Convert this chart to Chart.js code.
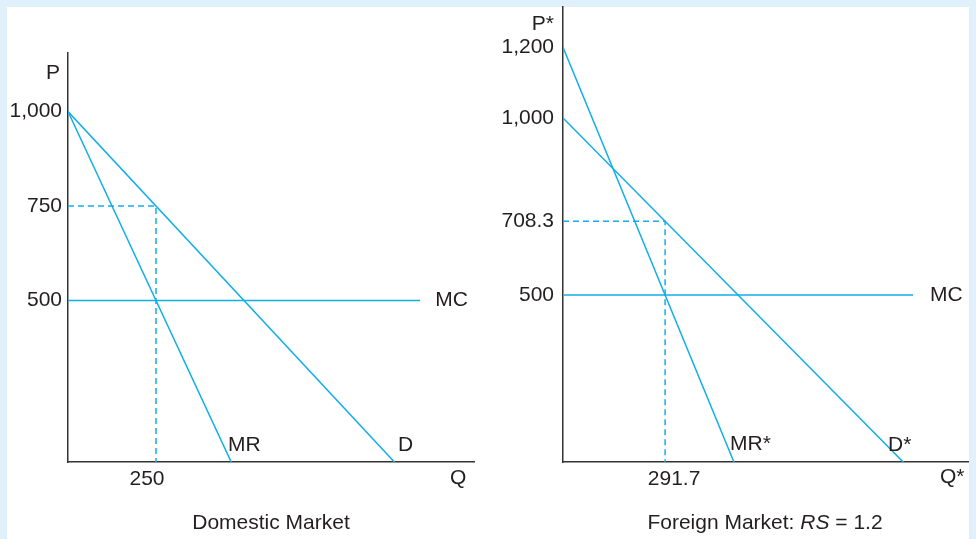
<!DOCTYPE html>
<html>
<head>
<meta charset="utf-8">
<script src="https://cdn.jsdelivr.net/npm/chart.js@4"></script>
<style>
  html, body { margin:0; padding:0; }
  body { width:976px; height:539px; background:#e0f1fb; position:relative; overflow:hidden;
         font-family:'Liberation Sans', Arial, Helvetica, sans-serif; color:#231f20; }
  #panel { position:absolute; left:7px; top:7px; width:962px; height:532px; background:#ffffff; }
  canvas { position:absolute; top:0; }
  .cap { position:absolute; font-size:21px; line-height:24px; white-space:nowrap; transform:translate(-50%,-50%); }
</style>
</head>
<body>
<div id="panel"></div>
<canvas id="dom" width="488" height="539" style="left:0px"></canvas>
<canvas id="for" width="488" height="539" style="left:488px"></canvas>
<div class="cap" style="left:271px; top:522px;">Domestic Market</div>
<div class="cap" style="left:765px; top:522px;">Foreign Market: <i>RS</i> = 1.2</div>
<script>
// ---- Domestic market data (P vs Q) ----
const domDemand   = [{x:0, y:1000}, {x:1000, y:0}];
const domMR       = [{x:0, y:1000}, {x:500, y:0}];
const domMC       = [{x:0, y:500}, {x:1000, y:500}];
const domOptimum  = [{x:0, y:750}, {x:250, y:750}, {x:250, y:0}];
const domPriceTicks = [500, 750, 1000];
const domQtyTicks   = [250];

// ---- Foreign market data (P* vs Q*) ----
const forDemand   = [{x:0, y:1000}, {x:1000, y:0}];
const forMR       = [{x:0, y:1200}, {x:500, y:0}];
const forMC       = [{x:0, y:500}, {x:1000, y:500}];
const forOptimum  = [{x:0, y:708.3}, {x:291.7, y:708.3}, {x:291.7, y:0}];
const forPriceTicks = [500, 708.3, 1000, 1200];
const forQtyTicks   = [291.7];

const CYAN = '#12aee8';
const INK = '#231f20';
const AXIS = '#333333';
const FONT = "'Liberation Sans', Arial, Helvetica, sans-serif";

Chart.defaults.font.family = FONT;
Chart.defaults.font.size = 21;
Chart.defaults.color = INK;

const fmt = v => Number(v).toLocaleString('en-US');

const textLabels = {
  id: 'textLabels',
  afterDraw(chart, args, opts) {
    const ctx = chart.ctx;
    const xs = chart.scales.x, ys = chart.scales.y;
    ctx.save();
    ctx.fillStyle = INK;
    ctx.font = '21px ' + FONT;
    ctx.textBaseline = 'middle';
    (opts.items || []).forEach(it => {
      ctx.textAlign = it.align || 'left';
      ctx.fillText(it.text, xs.getPixelForValue(it.x), ys.getPixelForValue(it.y));
    });
    ctx.restore();
  }
};

function lineSet(data, dashed) {
  return {
    data, borderColor: CYAN, borderWidth: 1.5, pointRadius: 0, tension: 0,
    borderDash: dashed ? [6, 4] : [], fill: false
  };
}

function noPad(s) { s.paddingTop = 0; s.paddingBottom = 0; s.paddingLeft = 0; s.paddingRight = 0; }

function makeChart(id, cfg) {
  return new Chart(document.getElementById(id), {
    type: 'line',
    data: { datasets: cfg.datasets },
    options: {
      responsive: false, animation: false, devicePixelRatio: 1,
      layout: { padding: cfg.padding },
      plugins: { legend: {display:false}, tooltip: {enabled:false}, textLabels: { items: cfg.labels } },
      scales: {
        x: {
          type: 'linear', min: 0, max: cfg.xMax,
          grid: { display:false, drawTicks:false },
          border: { display:true, color: AXIS, width: 1.5 },
          afterBuildTicks: s => { s.ticks = cfg.xTicks.map(v => ({value:v})); },
          afterFit: s => { s.height = 77; noPad(s); },
          ticks: { autoSkip:false, maxRotation:0, padding:5, labelOffset: cfg.xLabelOffset, callback: v => fmt(v), color: INK }
        },
        y: {
          type: 'linear', min: cfg.yMin, max: cfg.yMax,
          grid: { display:false, drawTicks:false },
          border: { display:true, color: AXIS, width: 1.5 },
          afterBuildTicks: s => { s.ticks = cfg.yTicks.map(v => ({value:v})); },
          afterFit: s => { s.width = cfg.yWidth; noPad(s); },
          ticks: { autoSkip:false, padding: cfg.yPad, callback: v => fmt(v), color: INK }
        }
      }
    },
    plugins: [textLabels]
  });
}

makeChart('dom', {
  datasets: [lineSet(domDemand), lineSet(domMR), lineSet(domMC), lineSet(domOptimum, true)],
  padding: { top:53, right:14, left:0, bottom:0 },
  xMax: 1153.4, yMin: 72.75, yMax: 1155,
  xTicks: domQtyTicks, yTicks: domPriceTicks,
  xLabelOffset: -9, yWidth: 68, yPad: 6,
  labels: [
    {text:'P', x:-23, y:1102, align:'right'},
    {text:'Q', x:1085, y:30.4},
    {text:'MC', x:1043, y:500},
    {text:'MR', x:454.5, y:117.7},
    {text:'D', x:937.5, y:117.7}
  ]
});

makeChart('for', {
  datasets: [lineSet(forDemand), lineSet(forMR), lineSet(forMC), lineSet(forOptimum, true)],
  padding: { top:7, right:8, left:0, bottom:0 },
  xMax: 1157, yMin: 28.2, yMax: 1313.6,
  xTicks: forQtyTicks, yTicks: forPriceTicks,
  xLabelOffset: 9, yWidth: 75, yPad: 9,
  labels: [
    {text:'P*', x:-25.7, y:1265.5, align:'right'},
    {text:'Q*', x:1077, y:-14.1},
    {text:'MC', x:1048.6, y:500},
    {text:'MR*', x:477, y:79},
    {text:'D*', x:928.6, y:76.3}
  ]
});
</script>
</body>
</html>
